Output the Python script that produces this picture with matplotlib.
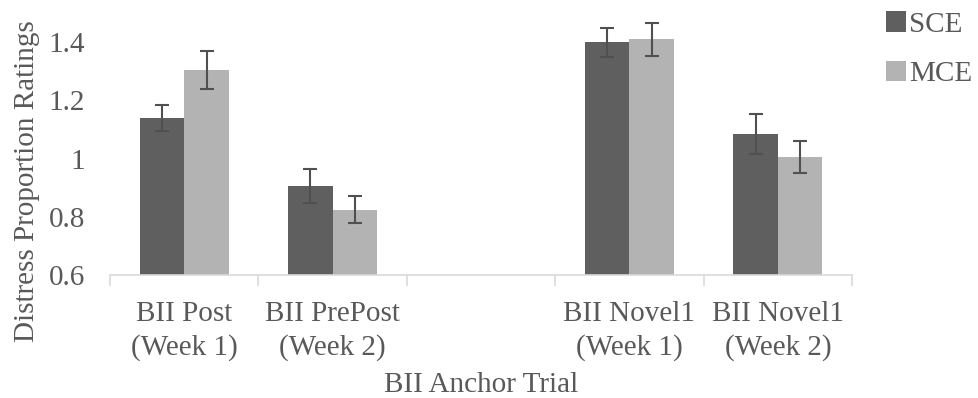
import numpy as np
import matplotlib
matplotlib.use("Agg")
import matplotlib.pyplot as plt
from matplotlib.patches import Patch

# Mean distress proportion ratings per anchor trial (middle slot left empty)
categories = ["BII Post\n(Week 1)", "BII PrePost\n(Week 2)", "",
              "BII Novel1\n(Week 1)", "BII Novel1\n(Week 2)"]
sce_means = [1.14, 0.905, np.nan, 1.40, 1.085]
sce_err = [0.045, 0.058, np.nan, 0.05, 0.068]
mce_means = [1.305, 0.825, np.nan, 1.41, 1.005]
mce_err = [0.065, 0.045, np.nan, 0.056, 0.054]
series_names = ["SCE", "MCE"]
y_ticks = [0.6, 0.8, 1.0, 1.2, 1.4]
y_tick_labels = ["0.6", "0.8", "1", "1.2", "1.4"]

TEXT = "#595959"
DARK = "#5f5f5f"
LIGHT = "#b3b3b3"
AXIS = "#d9d9d9"

plt.rcParams["font.family"] = ["Liberation Serif", "DejaVu Serif"]
plt.rcParams["font.size"] = 21

fig = plt.figure(figsize=(9.79, 3.98), dpi=100)
ax = fig.add_axes([0.1124, 0.309, 0.758, 0.658])

x = np.arange(len(categories))
w = 0.30
err_kw = dict(ecolor="#505050", elinewidth=1.5, capsize=4.8, capthick=1.5)
ax.bar(x - w / 2, sce_means, w, yerr=sce_err, color=DARK, error_kw=err_kw,
       zorder=2)
ax.bar(x + w / 2, mce_means, w, yerr=mce_err, color=LIGHT, error_kw=err_kw,
       zorder=2)

ax.set_xlim(-0.5, len(categories) - 0.5)
ax.set_ylim(0.6, 1.5)
ax.set_yticks(y_ticks)
ax.set_yticklabels(y_tick_labels)

ax.set_xticks(x)
ax.set_xticklabels(categories, linespacing=1.3)
ax.set_xticks(np.arange(-0.5, len(categories)), minor=True)
ax.tick_params(axis="x", which="major", length=0, pad=19, colors=TEXT)
ax.tick_params(axis="x", which="minor", length=8, width=1.2, color=AXIS)
ax.tick_params(axis="y", length=0, pad=18, colors=TEXT)

for side in ["top", "right", "left"]:
    ax.spines[side].set_visible(False)
ax.spines["bottom"].set_color(AXIS)
ax.spines["bottom"].set_linewidth(1.2)

ax.set_xlabel("BII Anchor Trial", color=TEXT, labelpad=8)
ax.set_ylabel("Distress Proportion Ratings", color=TEXT)
ax.yaxis.set_label_coords(-0.094, 0.36)

handles = [Patch(facecolor=DARK, label=series_names[0]),
           Patch(facecolor=LIGHT, label=series_names[1])]
leg = fig.legend(handles=handles, loc="upper left", bbox_to_anchor=(0.905, 0.972),
                 frameon=False, borderpad=0, borderaxespad=0,
                 handlelength=0.7, handleheight=0.7,
                 handletextpad=0.1, labelspacing=0.79, fontsize=21)
for t in leg.get_texts():
    t.set_color(TEXT)

fig.savefig("out.png", dpi=100)
